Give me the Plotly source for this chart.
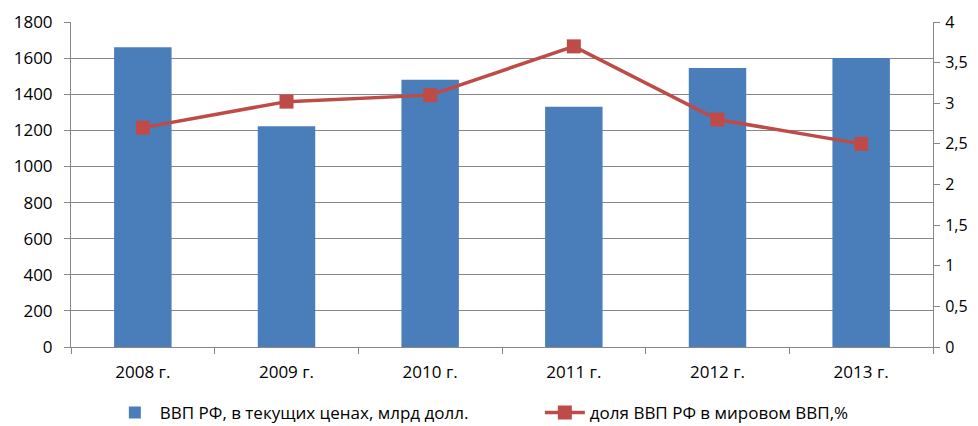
import plotly.graph_objects as go

years = ["2008 г.", "2009 г.", "2010 г.", "2011 г.", "2012 г.", "2013 г."]
gdp = [1660, 1222, 1480, 1330, 1545, 1600]
share = [2.7, 3.02, 3.1, 3.7, 2.8, 2.5]
bar_name = "ВВП РФ, в текущих ценах, млрд долл."
line_name = "доля ВВП РФ в мировом ВВП,%"

font = dict(family="Open Sans, Liberation Sans, sans-serif", size=17, color="#000000")
rfont = dict(family="Open Sans, Liberation Sans, sans-serif", size=16, color="#000000")

fig = go.Figure()
fig.add_trace(go.Bar(x=years, y=gdp, name=bar_name, marker=dict(color="#4A7EBB", line=dict(color="#4A7EBB", width=0)),
                     width=0.4, yaxis="y"))
fig.add_trace(go.Scatter(x=years, y=share, name=line_name, mode="lines+markers", yaxis="y2",
                         line=dict(color="#BE4B48", width=3.5),
                         marker=dict(symbol="square", size=14, color="#BE4B48")))

# page body has an 8px default margin, so the figure is sized to fit inside the window
fig.update_layout(
    width=970, height=418,
    margin=dict(l=63, r=45, t=14, b=79, autoexpand=False),
    paper_bgcolor="white", plot_bgcolor="white",
    font=font,
    separators=", ",
    showlegend=True,
    legend=dict(orientation="h", xref="container", x=0.105, xanchor="left",
                yref="container", y=0.031, yanchor="middle",
                font=dict(size=17), itemwidth=40, entrywidth=375, traceorder="normal"),
    bargap=0.6,
    xaxis=dict(type="category", showline=True, linecolor="#878787", linewidth=1,
               ticks="outside", tickson="boundaries", ticklen=6, tickcolor="#878787",
               showgrid=False, tickfont=font, ticklabelstandoff=10, automargin=False),
    yaxis=dict(range=[0, 1800], dtick=200, showgrid=True, gridcolor="#878787", gridwidth=1,
               showline=True, linecolor="#878787", ticks="outside", ticklen=6, tickcolor="#878787",
               zeroline=False, tickfont=font, ticklabelstandoff=8, automargin=False),
    yaxis2=dict(range=[0, 4], dtick=0.5, overlaying="y", side="right", showgrid=False,
                showline=True, linecolor="#878787", ticks="outside", ticklen=6, tickcolor="#878787",
                zeroline=False, tickfont=rfont, ticklabelstandoff=2, automargin=False),
)

fig.write_html("out.html")
